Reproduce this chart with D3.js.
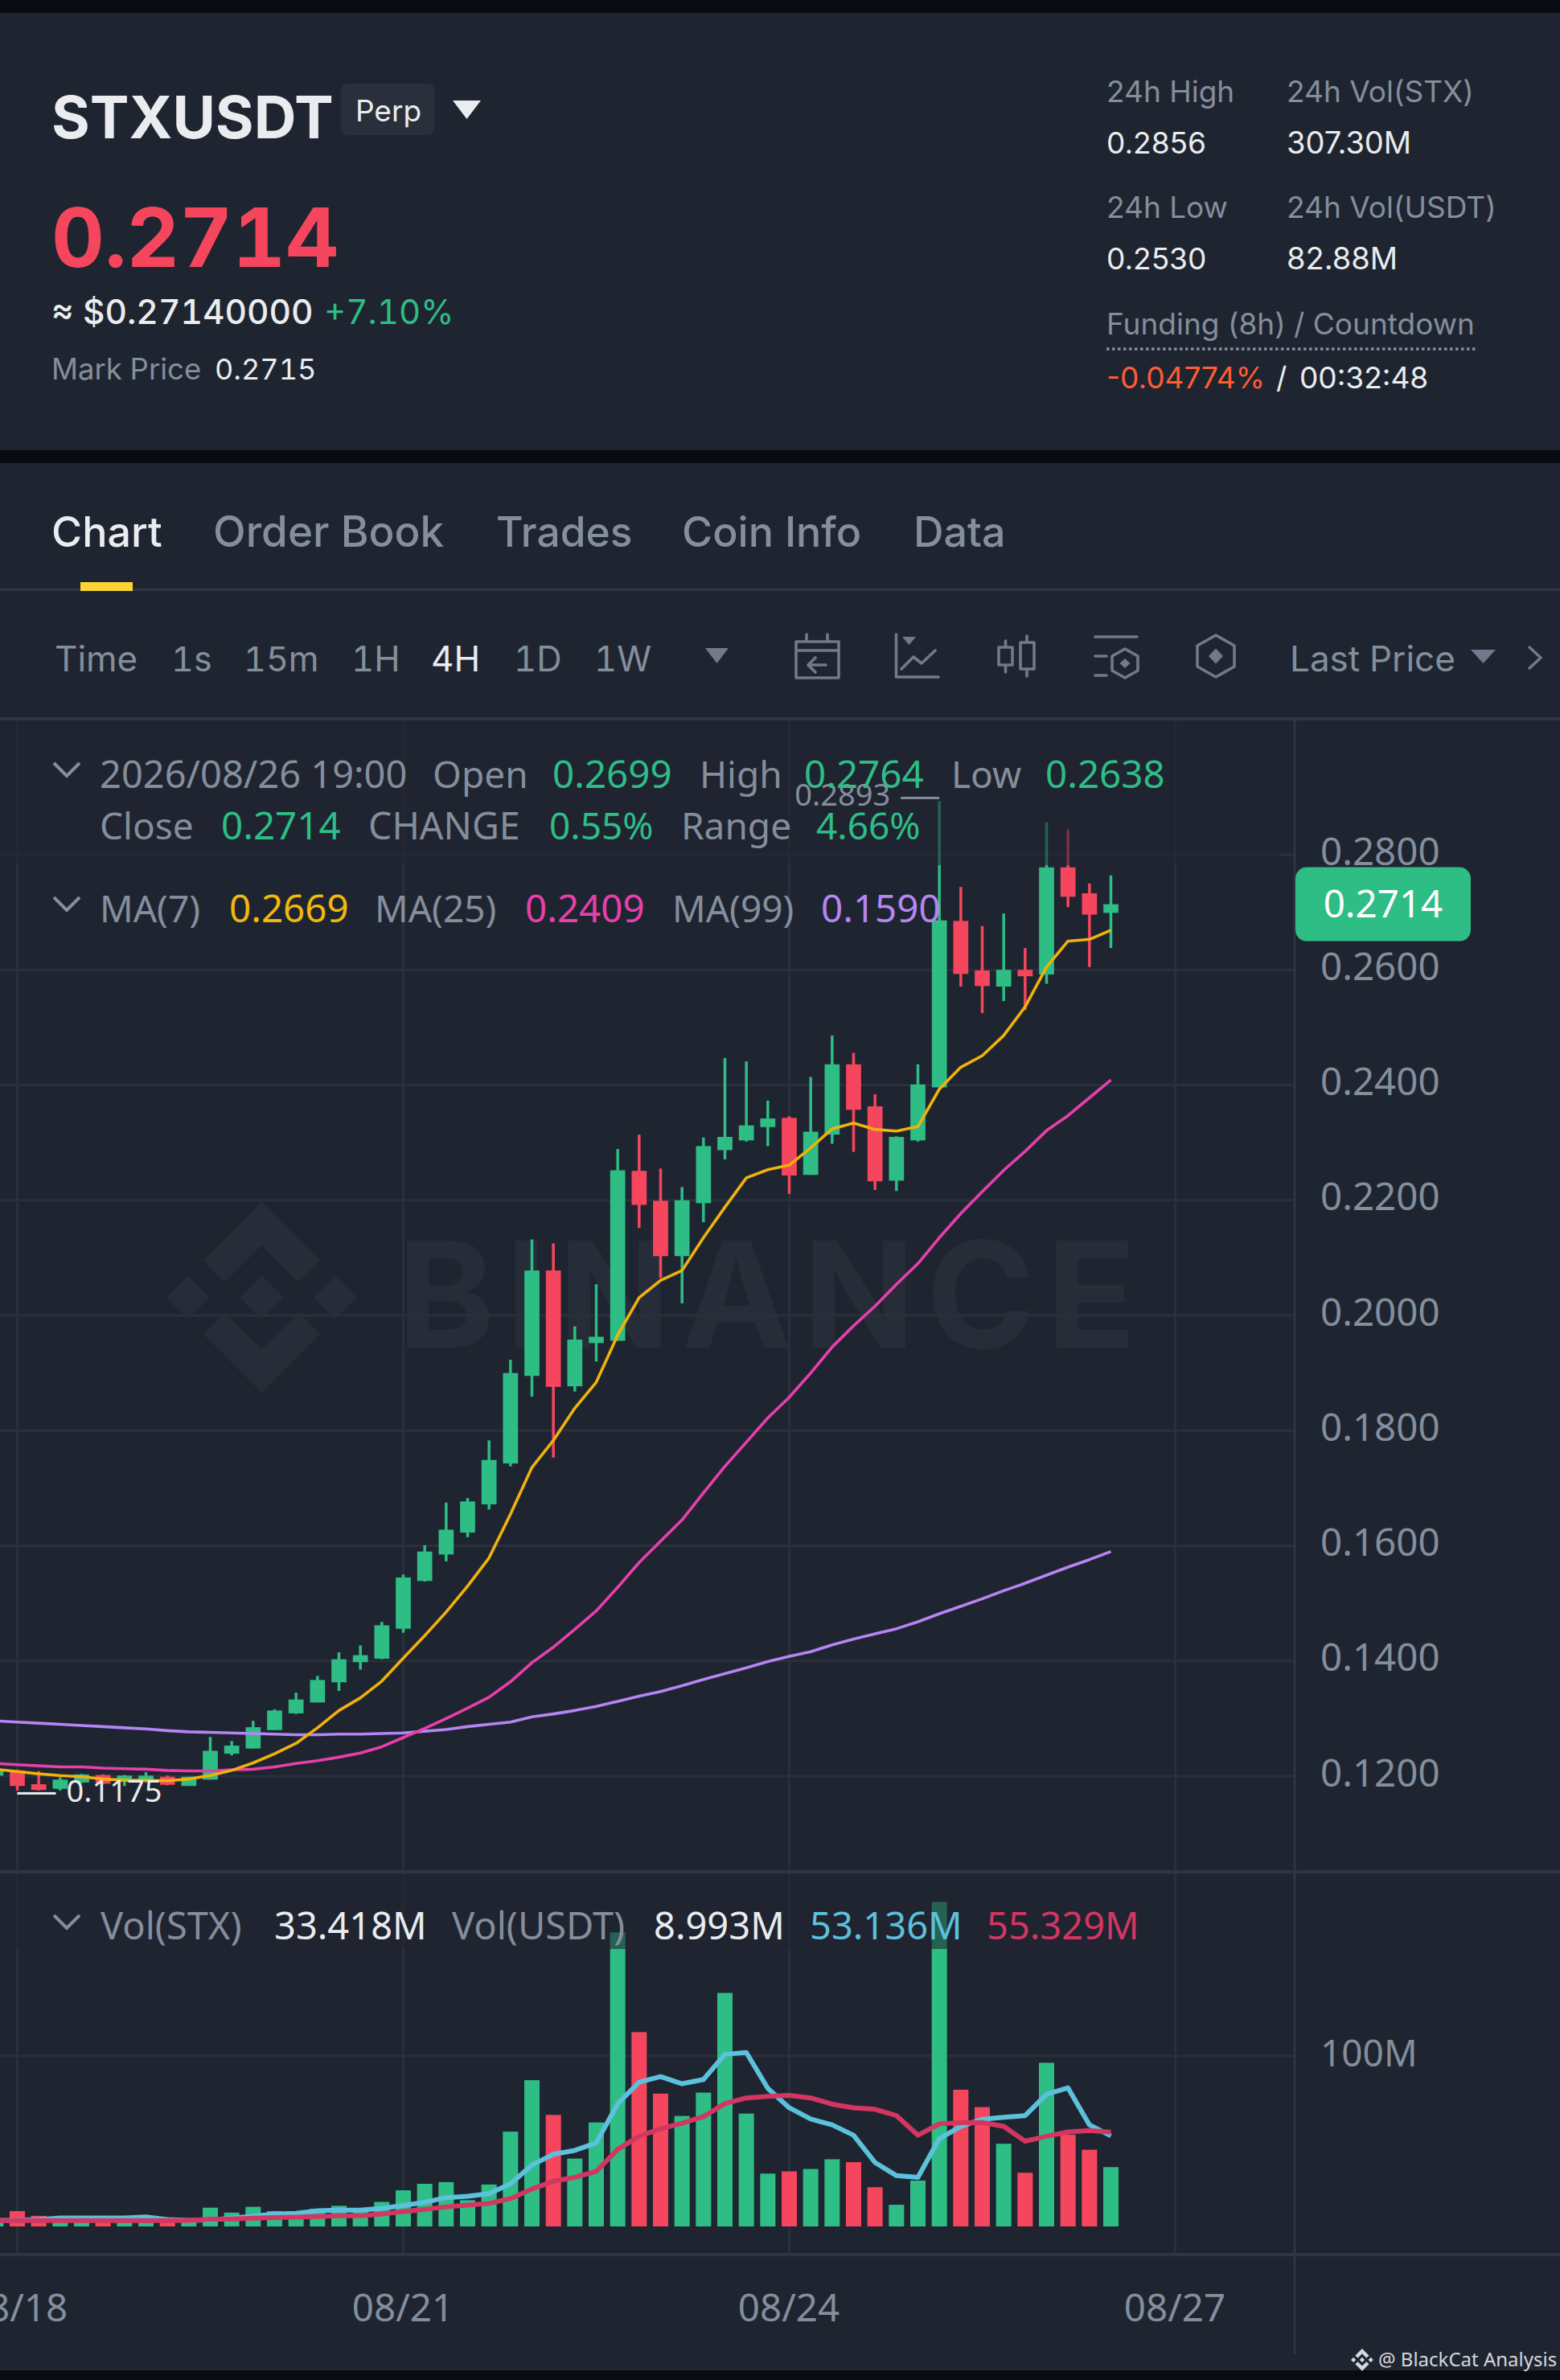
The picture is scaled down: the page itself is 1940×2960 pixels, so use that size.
<!DOCTYPE html>
<html lang="en">
  <head>
    <meta charset="UTF-8" />
    <title>STXUSDT Perp</title>
    <style>
      html, body { margin: 0; padding: 0; background: #1f2530; }
      svg { display: block; font-family: "Noto Sans", sans-serif; }
      .plex { font-family: Inter, sans-serif; font-variant-numeric: tabular-nums; font-feature-settings: "tnum" 1; }
      .plain { font-family: Inter, sans-serif; }
      .axis text { font-family: "Noto Sans", sans-serif; font-size: 47.5px; fill: #848e9c; }
      .axis.small text { font-size: 46px; }
      .axis path, .axis line { display: none; }
    </style>
    <script src="https://d3js.org/d3.v7.min.js"></script>
  </head>
  <body>
    <div id="chart"></div>
    <script>
      // 4H candles. First bar sits one step left of the 08/18 gridline
      const firstBar = -1;
      const opens = [.1201,.1210,.1186,.1178,.1189,.1202,.1190,.1190,.1199,.1183,.1194,.1239,.1248,.1280,.1309,.1328,.1363,.1398,.1404,.1456,.1539,.1585,.1623,.1672,.1743,.1895,.2078,.1877,.1952,.1956,.2251,.2199,.2103,.2195,.2287,.2304,.2327,.2343,.2244,.2314,.2436,.2363,.2234,.2304,.2396,.2685,.2599,.2571,.2600,.2592,.2778,.2733,.2699];
      const highs = [.1215,.1211,.1209,.1198,.1204,.1203,.1202,.1207,.1201,.1199,.1268,.1261,.1296,.1316,.1345,.1374,.1415,.1427,.1468,.1550,.1601,.1675,.1683,.1783,.1923,.2132,.2125,.1981,.2054,.2289,.2314,.2255,.2223,.2309,.2447,.2441,.2373,.2346,.2414,.2486,.2456,.2384,.2311,.2436,.2893,.2744,.2676,.2698,.2638,.2856,.2844,.2750,.2764];
      const lows = [.1198,.1175,.1175,.1175,.1188,.1186,.1183,.1189,.1184,.1183,.1194,.1236,.1248,.1280,.1308,.1328,.1348,.1385,.1403,.1449,.1538,.1573,.1615,.1663,.1738,.1859,.1753,.1868,.1920,.1956,.2152,.2065,.2021,.2162,.2271,.2302,.2294,.2211,.2244,.2298,.2284,.2218,.2216,.2302,.2396,.2571,.2525,.2546,.2530,.2576,.2709,.2605,.2638];
      const closes = [.1212,.1183,.1176,.1194,.1203,.1187,.1201,.1201,.1185,.1199,.1244,.1253,.1285,.1314,.1333,.1367,.1403,.1410,.1462,.1545,.1590,.1628,.1677,.1749,.1900,.2078,.1876,.1958,.1963,.2252,.2192,.2103,.2200,.2294,.2310,.2330,.2342,.2243,.2319,.2436,.2357,.2233,.2310,.2401,.2686,.2593,.2572,.2600,.2589,.2778,.2727,.2696,.2714];

      const ma7 = [.1212,.1208,.1204,.1201,.1199,.1195,.1193,.1193,.1192,.1195,.1201,.1210,.1223,.1239,.1257,.1284,.1314,.1336,.1365,.1405,.1444,.1485,.1530,.1579,.1655,.1736,.1783,.1839,.1884,.1966,.2031,.2061,.2078,.2135,.2188,.2239,.2253,.2261,.2291,.2324,.2334,.2323,.2320,.2328,.2393,.2431,.2451,.2486,.2536,.2605,.2650,.2653,.2669];
      const ma25 = [.1222,.1220,.1218,.1216,.1216,.1214,.1213,.1212,.1210,.1209,.1209,.1211,.1212,.1216,.1222,.1227,.1233,.1240,.1251,.1267,.1283,.1300,.1318,.1337,.1364,.1397,.1424,.1455,.1487,.1528,.1571,.1608,.1645,.1692,.1738,.1780,.1822,.1858,.1900,.1945,.1982,.2016,.2054,.2090,.2135,.2177,.2215,.2252,.2285,.2321,.2347,.2378,.2409];
      const ma99 = [.1296,.1294,.1292,.1290,.1288,.1286,.1284,.1282,.1279,.1277,.1276,.1275,.1274,.1273,.1272,.1272,.1273,.1273,.1274,.1275,.1278,.1281,.1286,.1290,.1294,.1303,.1308,.1314,.1321,.1330,.1339,.1347,.1357,.1368,.1378,.1388,.1399,.1408,.1416,.1428,.1438,.1447,.1456,.1468,.1482,.1495,.1508,.1522,.1535,.1549,.1563,.1576,.1590];

      // volume in millions
      const volumes = [4,9,6.2,5,4.2,3.8,3.8,5.4,4.2,3.8,11,8.1,11.5,9,8,10.4,12.1,10,14.4,21.2,25,26,15.4,24.6,55.6,85.8,65.4,39.8,61,172.5,114,77.9,64.8,78.5,137,66.2,31,32.3,33.7,39.4,37.7,23,12.7,26.9,190.4,80.2,70,48.5,31.5,96,53.8,45,34.8];
      const volMaShort = [3.5,3.6,4,5,5,5,5,5.5,4,3.5,3.8,4.8,6,7.3,7.7,9.2,9.6,9.6,10.6,12.3,14.2,16.9,17.7,19.2,25,36,42.3,44.6,49,72,84.6,87.9,83.7,86.2,101,102,81,69.6,63,59.6,53.5,37.5,29.8,28.8,51.5,58.7,62.9,64,65,77.5,81.3,59.6,53.1];
      const volMaLong = [3.3,3.5,3.4,3.4,3.4,3.4,3.4,3.4,3.4,3.5,4.2,4.4,4.8,5.2,5.4,5.8,6.2,6.3,7.3,8.7,10,11.5,12.5,13.5,16.3,22,26.5,28.8,32.3,45.2,52.9,57.3,60.6,64.4,72.1,75.4,76.3,76.9,75.4,71.7,69.6,68.7,65,53.5,60.2,60.8,61,58.7,50,52.9,55.4,56.2,55.3];

      const priceTicks = [0.28, 0.26, 0.24, 0.22, 0.2, 0.18, 0.16, 0.14, 0.12];
      const dateTicks = [0, 18, 36, 54];
      const dateLabels = ["08/18", "08/21", "08/24", "08/27"];
      const volTicks = [100];

      const UP = "#2ebd85";
      const DOWN = "#f6465d";
      const BG = "#1f2530";
      const GREY = "#848e9c";
      const WHITE = "#eaecef";
      const ICON = "#707a8a";
      const GRID = "#2a303b";
      const SEP = "#2f3541";
      const DARK = "#080c10";

      const W = 1940, H = 2960;
      const axisX = 1610;
      const paneTop = 895, volBottom = 2804;

      const x = d3.scaleLinear().domain([0, 54]).range([21.5, 1461.5]);
      const y = d3.scaleLinear().domain([0.12, 0.28]).range([2209, 1063]);
      const yVol = d3.scaleLinear().domain([0, 100]).range([2769, 2557]);

      const bars = opens.map((o, i) => ({
        i: i + firstBar, o, h: highs[i], l: lows[i], c: closes[i], v: volumes[i],
        ma7: ma7[i], ma25: ma25[i], ma99: ma99[i],
        vs: volMaShort[i], vl: volMaLong[i],
        up: closes[i] >= o,
      }));

      const svg = d3.select("#chart").append("svg").attr("width", W).attr("height", H);

      function rect(g, x0, y0, w, h, fill, rx) {
        return g.append("rect").attr("x", x0).attr("y", y0).attr("width", w).attr("height", h)
          .attr("fill", fill).attr("rx", rx || 0);
      }
      function txt(g, x0, y0, s, size, fill, weight, anchor) {
        return g.append("text").attr("x", x0).attr("y", y0).text(s)
          .attr("font-size", size).attr("fill", fill)
          .attr("font-weight", weight || 400).attr("text-anchor", anchor || "start");
      }

      // page bands
      rect(svg, 0, 0, W, H, BG);
      rect(svg, 0, 0, W, 16, DARK);
      rect(svg, 0, 560, W, 16, DARK);
      rect(svg, 0, 2948, W, 12, DARK);

      // header
      const head = svg.append("g").attr("class", "plex");
      txt(head, 64, 172, "STXUSDT", 73, WHITE, 700);
      rect(head, 424, 104, 116, 64, "#29303c", 8);
      txt(head, 483, 151, "Perp", 37, WHITE, 400, "middle");
      head.append("path").attr("d", "M563 125H598L580.5 148Z").attr("fill", WHITE);
      txt(head, 64, 332, "0.2714", 102, DOWN, 700);
      txt(head, 64, 403, "≈ $0.27140000", 42.500, WHITE, 500);
      txt(head, 403, 403, "+7.10%", 42, UP, 400);
      txt(head, 64, 472, "Mark Price", 36.500, GREY);
      txt(head, 267, 472, "0.2715", 36, WHITE);

      const stats = svg.append("g").attr("class", "plain");
      txt(stats, 1376, 127, "24h High", 37, GREY);
      txt(stats, 1600, 127, "24h Vol(STX)", 37, GREY);
      txt(stats, 1376, 191, "0.2856", 37, WHITE);
      txt(stats, 1600, 191, "307.30M", 38, WHITE);
      txt(stats, 1376, 271, "24h Low", 37, GREY);
      txt(stats, 1600, 271, "24h Vol(USDT)", 37, GREY);
      txt(stats, 1376, 335, "0.2530", 37, WHITE);
      txt(stats, 1600, 335, "82.88M", 38, WHITE);
      txt(stats, 1376, 416, "Funding (8h) / Countdown", 37, GREY);
      stats.append("line").attr("x1", 1376).attr("x2", 1836).attr("y1", 434).attr("y2", 434)
        .attr("stroke", GREY).attr("stroke-width", 3.5).attr("stroke-dasharray", "3.5 3.5");
      txt(stats, 1376, 483, "-0.04774%", 37, "#ff5c33");
      txt(stats, 1587, 483, "/", 37, WHITE);
      txt(stats, 1616, 483, "00:32:48", 37, WHITE);

      // tabs
      const tabs = svg.append("g").attr("class", "plex");
      txt(tabs, 64, 680, "Chart", 52, WHITE, 500);
      txt(tabs, 265, 680, "Order Book", 53, GREY, 500);
      txt(tabs, 617, 680, "Trades", 51.5, GREY, 500);
      txt(tabs, 848, 680, "Coin Info", 52, GREY, 500);
      txt(tabs, 1136, 680, "Data", 52, GREY, 500);
      rect(tabs, 0, 732, W, 3, SEP);
      rect(tabs, 100, 724, 65, 11, "#fcd535");

      // toolbar
      const bar = svg.append("g").attr("class", "plex");
      txt(bar, 68, 835, "Time", 44, GREY);
      txt(bar, 213, 835, "1s", 43, GREY);
      txt(bar, 303, 835, "15m", 43, GREY);
      txt(bar, 437, 835, "1H", 43.500, GREY);
      txt(bar, 536, 835, "4H", 44, WHITE);
      txt(bar, 639, 835, "1D", 43.500, GREY);
      txt(bar, 739, 835, "1W", 43.500, GREY);
      bar.append("path").attr("d", "M877 806H906L891.5 825Z").attr("fill", ICON);
      txt(bar, 1604, 835, "Last Price", 44, GREY);
      bar.append("path").attr("d", "M1829 808H1860L1844.5 825Z").attr("fill", ICON);
      bar.append("path").attr("d", "M1901 804L1916 818L1901 832").attr("fill", "none")
        .attr("stroke", ICON).attr("stroke-width", 3.5);

      const icon = bar.append("g").attr("fill", "none").attr("stroke", ICON)
        .attr("stroke-width", 3.6).attr("stroke-linecap", "round").attr("stroke-linejoin", "round");
      // calendar
      icon.append("path").attr("d", "M990 798H1043V843H990ZM990 809H1043M1003 789V798M1029 789V798M1027 827H1006M1014 818L1005 827L1014 836");
      // line chart
      icon.append("path").attr("d", "M1114.5 789V842H1167M1121 832L1136 817L1146 825L1163 809");
      icon.append("path").attr("d", "M1122 792H1139L1130.5 802Z").attr("fill", ICON).attr("stroke", "none");
      // candles
      icon.append("path").attr("d", "M1242 805H1259V827H1242ZM1250.5 797V805M1250.5 827V836M1269 799H1286V832H1269ZM1277 791V799M1277 832V841");
      // settings
      icon.append("path").attr("d", "M1362 792H1414M1362 816H1376M1362 840H1376M1399 807L1415 816V834L1399 843L1383 834V816Z");
      icon.append("path").attr("d", "M1399 819L1405.5 825L1399 831L1392.5 825Z").attr("fill", ICON).attr("stroke", "none");
      // hexagon
      icon.append("path").attr("d", "M1512 790L1535 803V829L1512 842L1489 829V803Z");
      icon.append("path").attr("d", "M1512 806.500L1521 816L1512 825.500L1503 816Z").attr("fill", ICON).attr("stroke", "none");

      // watermark
      const logoPaths = [
        "M38.73 53.2l24.59-24.58 24.6 24.6 14.3-14.31L63.32 0 24.42 38.9l14.31 14.3z",
        "M0 63.31l14.3-14.31 14.31 14.31-14.31 14.3z",
        "M38.73 73.41l24.59 24.59 24.6-24.6 14.31 14.29-38.9 38.91-38.91-38.88-.02-.02z",
        "M98 63.31l14.3-14.31 14.31 14.3-14.31 14.32z",
        "M77.83 63.3L63.32 48.78 52.59 59.51l-1.24 1.23-2.54 2.54 14.51 14.5 14.51-14.47z",
      ];
      const mark = svg.append("g");
      mark.append("g").attr("transform", "translate(207,1495) scale(1.87)").attr("fill", "#272d38")
        .selectAll("path").data(logoPaths).join("path").attr("d", (d) => d);
      txt(mark, 494, 1676, "BINANCE", 183, "#272d38", 700).style("font-family", "Inter").attr("letter-spacing", 14);

      // grid
      const grid = svg.append("g").attr("stroke", GRID).attr("stroke-width", 3);
      grid.selectAll(".h").data(priceTicks).join("line").attr("class", "h")
        .attr("x1", 0).attr("x2", axisX).attr("y1", (d) => y(d)).attr("y2", (d) => y(d));
      grid.selectAll(".hv").data(volTicks).join("line").attr("class", "hv")
        .attr("x1", 0).attr("x2", axisX).attr("y1", (d) => yVol(d)).attr("y2", (d) => yVol(d));
      grid.selectAll(".v").data(dateTicks).join("line").attr("class", "v")
        .attr("x1", (d) => x(d)).attr("x2", (d) => x(d)).attr("y1", paneTop).attr("y2", volBottom);

      // candles
      const wickW = 3.5, bodyW = 18.7, volW = 19;
      const candles = svg.append("g");
      candles.selectAll(".wick").data(bars).join("rect").attr("class", "wick")
        .attr("x", (d) => x(d.i) - wickW / 2).attr("width", wickW)
        .attr("y", (d) => y(d.h)).attr("height", (d) => y(d.l) - y(d.h))
        .attr("fill", (d) => (d.up ? UP : DOWN));
      candles.selectAll(".body").data(bars).join("rect").attr("class", "body")
        .attr("x", (d) => x(d.i) - bodyW / 2).attr("width", bodyW)
        .attr("y", (d) => y(Math.max(d.o, d.c)))
        .attr("height", (d) => Math.max(2, Math.abs(y(d.o) - y(d.c))))
        .attr("fill", (d) => (d.up ? UP : DOWN));

      // moving averages
      function drawLine(g, key, scale, color, width) {
        const line = d3.line().x((d) => x(d.i)).y((d) => scale(d[key]));
        g.append("path").datum(bars).attr("d", line).attr("fill", "none")
          .attr("stroke", color).attr("stroke-width", width).attr("stroke-linejoin", "round");
      }
      const lines = svg.append("g");
      drawLine(lines, "ma99", y, "#b685f5", 3.6);
      drawLine(lines, "ma25", y, "#e83fac", 3.6);
      drawLine(lines, "ma7", y, "#f0b20b", 3.6);

      // volume
      const vol = svg.append("g");
      vol.selectAll("rect").data(bars).join("rect")
        .attr("x", (d) => x(d.i) - volW / 2).attr("width", volW)
        .attr("y", (d) => yVol(d.v)).attr("height", (d) => yVol(0) - yVol(d.v))
        .attr("fill", (d) => (d.up ? UP : DOWN));
      drawLine(vol, "vs", yVol, "#5bc1dc", 6);
      drawLine(vol, "vl", yVol, "#d33661", 6);

      // legend backplates dim what runs under them
      rect(svg, 0, 896, 1592, 180, BG).attr("opacity", 0.6);
      rect(svg, 0, 2331, 1420, 93, BG).attr("opacity", 0.6);

      // extreme labels
      const hiBar = bars[d3.maxIndex(bars, (d) => d.h)];
      const loBar = bars[d3.minIndex(bars, (d) => d.l)];
      const hiY = y(hiBar.h) - 4, loY = y(loBar.l) + 3.5;
      const notes = svg.append("g");
      rect(notes, x(hiBar.i) - 48, hiY - 1.5, 48, 3, GREY);
      txt(notes, x(hiBar.i) - 61, hiY + 10, d3.format(".4f")(hiBar.h), 38, GREY, 400, "end");
      rect(notes, x(loBar.i), loY - 1.5, 48, 3, WHITE);
      txt(notes, x(loBar.i) + 61, loY + 11, d3.format(".4f")(loBar.l), 38, WHITE);

      // legends
      const legend = svg.append("g");
      const chev = (xa, ya) => legend.append("path")
        .attr("d", `M${xa} ${ya}l16 16l16 -16`).attr("fill", "none")
        .attr("stroke", GREY).attr("stroke-width", 4);
      chev(67, 949);
      txt(legend, 124, 980, "2026/08/26 19:00", 47, GREY);
      txt(legend, 538, 980, "Open", 46, GREY);
      txt(legend, 687, 980, "0.2699", 47.5, UP);
      txt(legend, 870, 980, "High", 46, GREY);
      txt(legend, 1000, 980, "0.2764", 47.5, UP);
      txt(legend, 1183, 980, "Low", 46, GREY);
      txt(legend, 1300, 980, "0.2638", 47.5, UP);
      txt(legend, 124, 1044, "Close", 46, GREY);
      txt(legend, 275, 1044, "0.2714", 47.5, UP);
      txt(legend, 458, 1044, "CHANGE", 46.5, GREY);
      txt(legend, 683, 1044, "0.55%", 46, UP);
      txt(legend, 847, 1044, "Range", 46, GREY);
      txt(legend, 1015, 1044, "4.66%", 46, UP);
      chev(67, 1116);
      txt(legend, 124, 1147, "MA(7)", 46, GREY);
      txt(legend, 285, 1147, "0.2669", 47.5, "#f0b90b");
      txt(legend, 466, 1147, "MA(25)", 46, GREY);
      txt(legend, 653, 1147, "0.2409", 47.5, "#e83fac");
      txt(legend, 836, 1147, "MA(99)", 46, GREY);
      txt(legend, 1021, 1147, "0.1590", 47.5, "#b685f5");
      chev(67, 2382);
      txt(legend, 125, 2412, "Vol(STX)", 47, GREY);
      txt(legend, 341, 2412, "33.418M", 47, WHITE);
      txt(legend, 562, 2412, "Vol(USDT)", 47, GREY);
      txt(legend, 813, 2412, "8.993M", 47, WHITE);
      txt(legend, 1007, 2412, "53.136M", 47, "#5bc1dc");
      txt(legend, 1227, 2412, "55.329M", 47, "#d33661");

      // pane separators
      const seps = svg.append("g");
      rect(seps, 0, 892, W, 4, SEP);
      rect(seps, 0, 2326, W, 4, SEP);
      rect(seps, 0, 2802, W, 4, SEP);
      rect(seps, axisX - 1.5, 892, 3, 2036, SEP);

      // axes
      svg.append("g").attr("class", "axis").attr("transform", `translate(1642,0)`)
        .call(d3.axisRight(y).tickValues(priceTicks).tickFormat(d3.format(".4f")).tickSize(0).tickPadding(0))
        .selectAll("text").attr("dy", 12);
      svg.append("g").attr("class", "axis small").attr("transform", `translate(1642,0)`)
        .call(d3.axisRight(yVol).tickValues(volTicks).tickFormat((d) => d + "M").tickSize(0).tickPadding(0))
        .selectAll("text").attr("dy", 12);
      svg.append("g").attr("class", "axis").attr("transform", "translate(-1,2887)")
        .call(d3.axisBottom(x).tickValues(dateTicks).tickFormat((d, i) => dateLabels[i]).tickSize(0).tickPadding(0))
        .selectAll("text").attr("y", 0).attr("dy", 0);

      // current price tag
      const tagY = y(closes[closes.length - 1]);
      rect(svg, 1611, tagY - 46, 218, 92, UP, 14);
      txt(svg, 1720, tagY + 16, d3.format(".4f")(closes[closes.length - 1]), 47.5, "#ffffff", 400, "middle");

      // credit
      const credit = svg.append("g");
      credit.append("g").attr("transform", "translate(1680,2921) scale(0.22)").attr("fill", "#d5d8dc")
        .selectAll("path").data(logoPaths).join("path").attr("d", (d) => d);
      txt(credit, 1714, 2943, "@ BlackCat Analysis", 24, "#d5d8dc");
    </script>
  </body>
</html>
